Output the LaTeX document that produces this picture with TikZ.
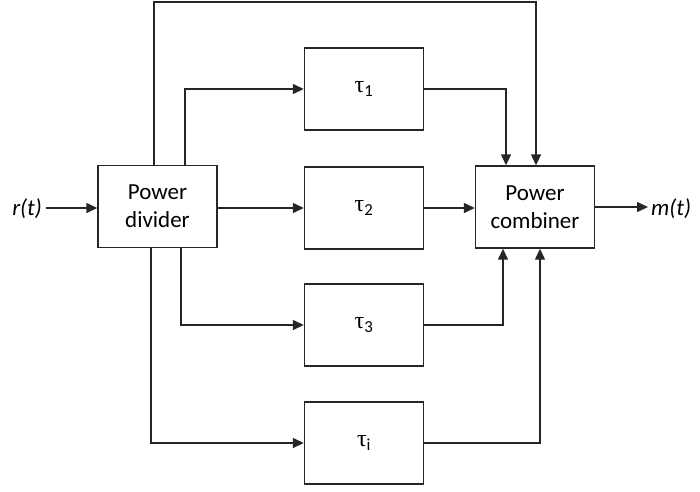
\documentclass[tikz,border=0pt]{standalone}
\usepackage{fontspec}
\setmainfont{Carlito}
\newfontfamily\greekfont{Liberation Serif}
\usetikzlibrary{arrows.meta}
\newcommand{\tsub}[1]{{\greekfont τ}\textsubscript{#1}}
\begin{document}
\begin{tikzpicture}[x=1pt,y=-1pt,
  blk/.style={draw=black!85,line width=1.4pt,minimum width=119pt,minimum height=82pt,inner sep=0pt,align=center,font=\fontsize{23}{28}\selectfont},
  tblk/.style={blk,font=\fontsize{24}{26}\selectfont},
  wire/.style={draw=black!85,line width=1.4pt},
  arr/.style={wire,-{Triangle[length=11pt,width=10pt]}},
  lbl/.style={font=\fontsize{23}{26}\selectfont\itshape,inner sep=0pt}]
\useasboundingbox (0,0) rectangle (700,491);
% blocks
\node[blk] (div) at (157.5,206.5) {Power\\divider};
\node[blk] (comb) at (535,207) {Power\\combiner};
\node[tblk] (t1) at (364,89) {\tsub{1}};
\node[tblk] (t2) at (364,208) {\tsub{2}};
\node[tblk] (t3) at (364,325) {\tsub{3}};
\node[tblk] (ti) at (364,443) {\tsub{i}};
% input and output
\node[lbl,anchor=east] (r) at (42,209) {r(t)};
\node[lbl,anchor=west] (m) at (651,209) {m(t)};
\coordinate (rs) at (46,208);
\coordinate (me) at (648,207);
\draw[arr] (rs) -- (rs -| div.west);
\draw[arr] (comb.east |- me) -- (me);
% divider to delay lines
\coordinate (top) at (154,2);
\draw[arr] (div.north -| top) -- (top) -| (comb.north -| 536,0);
\draw[arr] (div.north -| 185,0) |- (t1.west);
\draw[arr] (div.east |- t2.west) -- (t2.west);
\draw[arr] (div.south -| 181,0) |- (t3.west);
\draw[arr] (div.south -| 151,0) |- (ti.west);
% delay lines to combiner
\draw[arr] (t1.east) -| (comb.north -| 506,0);
\draw[arr] (t2.east) -- (comb.west |- t2.east);
\draw[arr] (t3.east) -| (comb.south -| 503,0);
\draw[arr] (ti.east) -| (comb.south -| 540,0);
\end{tikzpicture}
\end{document}
